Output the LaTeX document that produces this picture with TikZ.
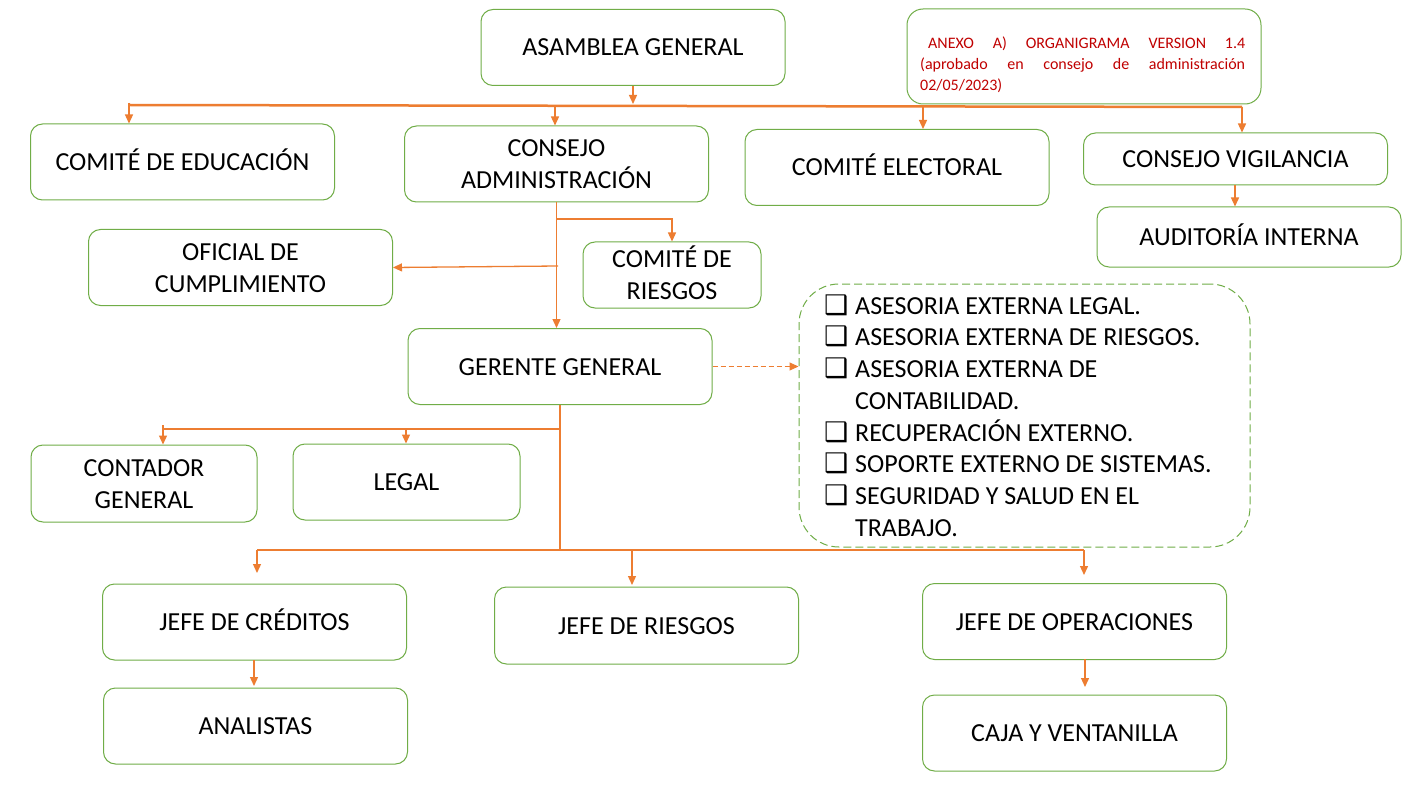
\documentclass[tikz,border=0pt]{standalone}
\usepackage{fontspec}
\setmainfont{Carlito}
\newfontfamily\dejavu{DejaVu Sans}
\usetikzlibrary{arrows.meta}
\definecolor{gr}{RGB}{112,173,71}
\definecolor{orng}{RGB}{237,125,49}
\definecolor{rd}{RGB}{192,0,0}
\newcommand{\chkbox}{\makebox[31pt][l]{\dejavu\fontsize{27}{27}\selectfont ❑}}
\begin{document}
\begin{tikzpicture}[x=1pt,y=-1pt,
  box/.style={draw=gr,line width=1pt,rounded corners=12pt,minimum width=304pt,minimum height=76pt,
    inner sep=0pt,font=\fontsize{26}{32}\selectfont,text height=17pt,text depth=0pt},
  twoline/.style={align=center,text height=49pt,text depth=0pt},
  conn/.style={draw=orng,line width=1.3pt},
  arr/.style={conn,-{Triangle[length=9pt,width=8pt]}}]
\useasboundingbox (0,0) rectangle (1404,786);
\fill[white] (0,0) rectangle (1404,786);

% boxes
\node[box] (asam) at (633,47.5) {ASAMBLEA GENERAL};
\node[draw=gr,line width=1pt,rounded corners=16pt,minimum width=354pt,minimum height=95pt] (annex) at (1084,56.5) {};
\node[anchor=north west,inner sep=0pt,text width=325pt,align=justify,text=rd,
  font=\fontsize{16}{21}\selectfont] (anxt) at (920,36.5)
  {\hspace*{8pt}ANEXO A) ORGANIGRAMA VERSION 1.4\linebreak (aprobado en consejo de administración\linebreak 02/05/2023)};
\node[box] (educ) at (182.5,162) {COMITÉ DE EDUCACIÓN};
\node[box,twoline] (cadm) at (556.5,164) {CONSEJO\\ADMINISTRACIÓN};
\node[box] (elec) at (897,167.5) {COMITÉ ELECTORAL};
\node[box,minimum height=52pt] (vig) at (1235.5,159) {CONSEJO VIGILANCIA};
\node[box,minimum height=60pt] (aud) at (1249,237) {AUDITORÍA INTERNA};
\node[box,twoline] (ofi) at (240.5,267.5) {OFICIAL DE\\CUMPLIMIENTO};
\node[box,twoline,minimum width=178pt,minimum height=66pt] (cries) at (672,275) {COMITÉ DE\\RIESGOS};
\node[box] (ger) at (560,366.5) {GERENTE GENERAL};
\node[draw=gr,line width=1pt,dash pattern=on 8pt off 4pt,rounded corners=40pt,
  minimum width=451pt,minimum height=263pt] (ext) at (1024.5,415.5) {};
\node[anchor=west,align=left,inner sep=0pt,font=\fontsize{26}{31.7}\selectfont] (extxt) at (824,415.5)
  {\chkbox ASESORIA EXTERNA LEGAL.\\
   \chkbox ASESORIA EXTERNA DE RIESGOS.\\
   \chkbox ASESORIA EXTERNA DE\\
   \hspace*{31pt}CONTABILIDAD.\\
   \chkbox RECUPERACIÓN EXTERNO.\\
   \chkbox SOPORTE EXTERNO DE SISTEMAS.\\
   \chkbox SEGURIDAD Y SALUD EN EL\\
   \hspace*{31pt}TRABAJO.};
\node[box,twoline,minimum width=226pt,minimum height=77pt] (cont) at (144,483.5) {CONTADOR\\GENERAL};
\node[box,minimum width=227pt] (legal) at (406.5,482) {LEGAL};
\node[box] (jcred) at (254.5,622) {JEFE DE CRÉDITOS};
\node[box,minimum height=77pt] (jries) at (646.5,625.5) {JEFE DE RIESGOS};
\node[box] (jop) at (1074.5,621.5) {JEFE DE OPERACIONES};
\node[box] (anal) at (255.5,726) {ANALISTAS};
\node[box] (caja) at (1074.5,733) {CAJA Y VENTANILLA};

% top bus
\coordinate (busL) at (129,105);
\coordinate (busR) at (1242,107);
\draw[conn,line width=2.5pt] (busL) -- (busR);
\coordinate (aA) at (633,104);
\draw[arr] (asam.south -| aA) -- (aA);
\coordinate (eA) at (129,103);
\draw[arr] (eA) -- (eA |- educ.north);
\coordinate (cA) at (555,106);
\draw[arr] (cA) -- (cA |- cadm.north);
\coordinate (lA) at (923,106);
\draw[arr] (lA) -- (lA |- elec.north);
\coordinate (vA) at (1242,107);
\draw[arr] (vA) -- (vA |- vig.north);
\coordinate (audA) at (1235,185);
\draw[arr] (audA) -- (audA |- aud.north);

% consejo administracion
\coordinate (j1) at (556,219);
\coordinate (j2) at (558,266);
\draw[arr] (cadm.south) -- (cadm.south |- ger.north);
\draw[arr] (j1) -| (cries.north);
\draw[arr] (j2) -- (ofi.east);

% gerente
\coordinate (g1) at (560,429);
\coordinate (g2) at (560,550);
\draw[conn] (ger.south) -- (g2);
\draw[conn] (g1) -- (163,429);
\coordinate (k1) at (163,425);
\draw[arr] (k1) -- (k1 |- cont.north);
\coordinate (k2) at (406,429);
\draw[arr] (k2) -- (k2 |- legal.north);
\draw[arr,dash pattern=on 5pt off 3pt,line width=1pt] (ger.east) -- (ger.east -| ext.west);

\coordinate (b1) at (257,550);
\coordinate (b2) at (632,550);
\coordinate (b3) at (1084,550);
\draw[conn] (b1) -- (b3);
\draw[arr] (b1) -- (257,573);
\draw[arr] (b2) -- (632,585);
\draw[arr] (b3) -- (1084,575);
\coordinate (d1) at (254,660);
\draw[arr] (d1) -- (254,686);
\coordinate (d2) at (1085,659);
\draw[arr] (d2) -- (1085,687);
\end{tikzpicture}
\end{document}
